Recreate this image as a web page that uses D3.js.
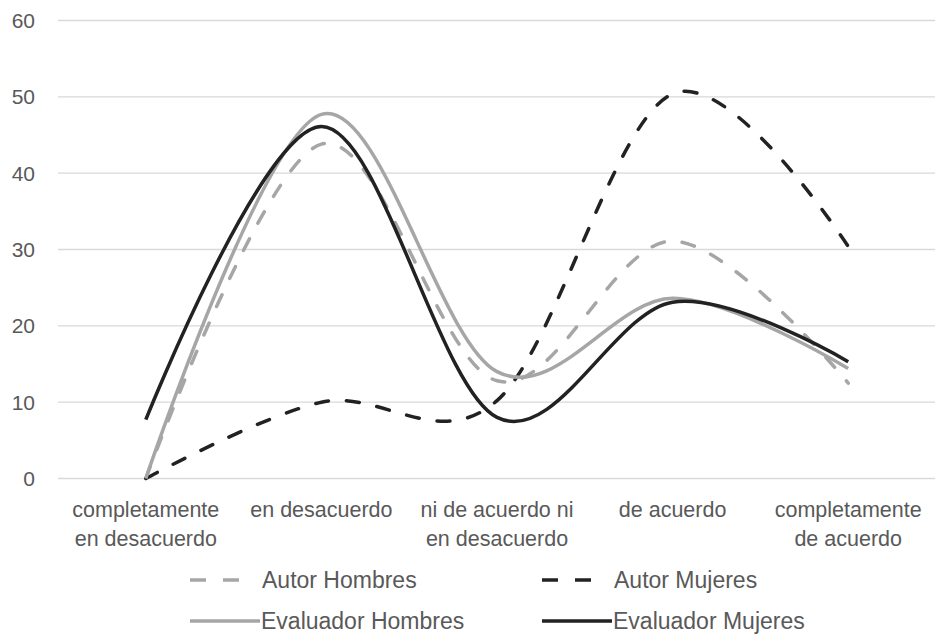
<!DOCTYPE html>
<html><head><meta charset="utf-8">
<script src="https://cdn.jsdelivr.net/npm/d3@7"></script>
<style>body{margin:0;background:#fff}svg{display:block}text{font-family:"Liberation Sans",Arial,sans-serif;fill:#595959}</style>
</head><body><svg id="c" width="935" height="635"></svg>
<script>
const categories = [["completamente","en desacuerdo"],["en desacuerdo"],["ni de acuerdo ni","en desacuerdo"],["de acuerdo"],["completamente","de acuerdo"]];
const autorHombres = [0, 43.8, 12.8, 31.1, 12.5];
const autorMujeres = [0, 10, 10.2, 50.4, 30.4];
const evaluadorHombres = [0, 47.7, 14.0, 23.6, 14.4];
const evaluadorMujeres = [7.7, 46.1, 8.0, 23.1, 15.3];
const yTicks = [0,10,20,30,40,50,60];
const series = [
  {name:"Autor Hombres", values:autorHombres, color:"#a6a6a6", dash:"13,18"},
  {name:"Autor Mujeres", values:autorMujeres, color:"#222222", dash:"13,18"},
  {name:"Evaluador Hombres", values:evaluadorHombres, color:"#a6a6a6", dash:null},
  {name:"Evaluador Mujeres", values:evaluadorMujeres, color:"#222222", dash:null}
];
const svg = d3.select("#c");
const x = d3.scaleBand().domain(d3.range(categories.length)).range([58, 936]);
const y = d3.scaleLinear().domain([0,60]).range([478.5, 20.5]);
const cx = i => x(i) + x.bandwidth()/2;

// gridlines
svg.append("g").selectAll("line").data(yTicks).join("line")
  .attr("x1",58).attr("x2",935).attr("y1",d=>y(d)).attr("y2",d=>y(d))
  .attr("stroke","#d9d9d9").attr("stroke-width",1.3);
// y labels
svg.append("g").selectAll("text").data(yTicks).join("text")
  .attr("x",35).attr("y",d=>y(d)).attr("dy","0.36em").attr("text-anchor","end")
  .style("font-size","21px").text(d=>d);
// x labels
const xl = svg.append("g").selectAll("text").data(categories).join("text")
  .attr("text-anchor","middle").style("font-size","21.5px");
xl.each(function(lines,i){
  const t = d3.select(this);
  lines.forEach((s,j)=>t.append("tspan").attr("x",cx(i)).attr("y",517+j*29).text(s));
});
// lines
const line = d3.line().x((d,i)=>cx(i)).y(d=>y(d)).curve(d3.curveCardinal.tension(0));
svg.append("g").selectAll("path").data(series).join("path")
  .attr("d",d=>line(d.values)).attr("fill","none")
  .attr("stroke",d=>d.color).attr("stroke-width",3.5)
  .attr("stroke-linecap",d=>d.dash?"round":"butt")
  .attr("stroke-dasharray",d=>d.dash);
// legend
const legPos = [[190,580],[542,580],[190,621],[542,621]];
const lg = svg.append("g").selectAll("g").data(series).join("g")
  .attr("transform",(d,i)=>`translate(${legPos[i][0]},${legPos[i][1]})`);
lg.append("path").attr("d",d=>d.dash?"M0,0H50":"M0,0H70")
  .attr("fill","none").attr("stroke",d=>d.color).attr("stroke-width",3.5)
  .attr("stroke-dasharray",d=>d.dash?"16,17":null);
lg.append("text").attr("x",d=>d.dash?72:71).attr("dy","0.36em")
  .style("font-size","23px").text(d=>d.name);
</script></body></html>
